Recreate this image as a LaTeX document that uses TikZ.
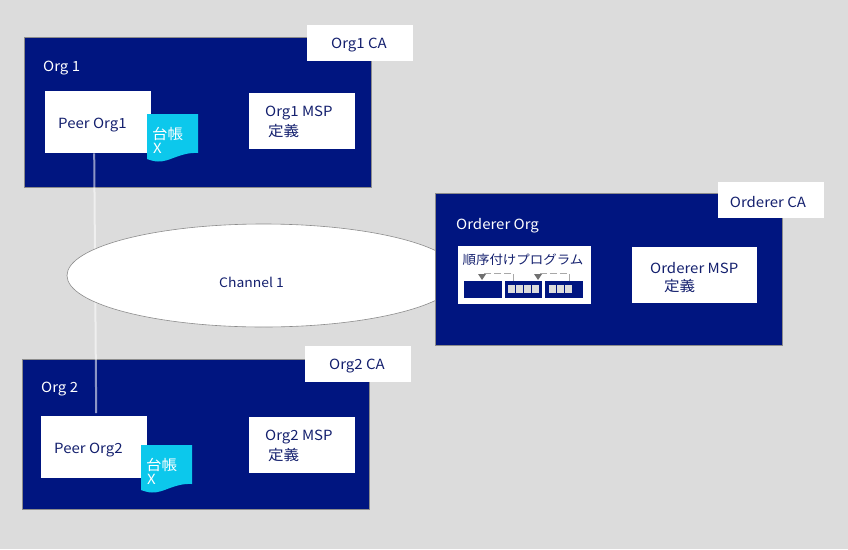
\documentclass[tikz,border=0pt]{standalone}
\usepackage{fontspec}
\usetikzlibrary{shapes.geometric}
\setmainfont[FakeStretch=1.07]{Noto Sans CJK JP}
\definecolor{bgc}{HTML}{DCDCDC}
\definecolor{navy}{HTML}{001580}
\definecolor{led}{HTML}{0CC8EC}
\definecolor{txt}{HTML}{14206E}
\definecolor{edge}{HTML}{8C8C8C}
\definecolor{dashc}{HTML}{A8A8A8}
\definecolor{tipc}{HTML}{707070}
\tikzset{
 x=1pt,y=-1pt,
 every node/.style={inner sep=0pt,font=\fontsize{14}{16}\selectfont},
 org/.style={fill=navy,draw=edge,line width=.8pt,anchor=north west},
 wbox/.style={fill=white,anchor=north west},
 dark/.style={text=txt,align=left,yshift=-1.5pt},
 lite/.style={text=white,align=left,yshift=-1.5pt},
 kanji/.style={font=\fontsize{14.5}{16}\selectfont},
 ledger/.style={fill=led},
 flow/.style={draw=white,draw opacity=.55,line width=2pt},
 minibox/.style={fill=navy,anchor=north west,minimum height=17pt},
 transfer/.style={draw=dashc,line width=.9pt,dash pattern=on 7pt off 3pt},
 tip/.style={fill=tipc},
}
\begin{document}
\begin{tikzpicture}
\useasboundingbox[fill=bgc] (0,0) rectangle (848,549);
% org panels
\node[org,minimum width=347pt,minimum height=150pt] (org1) at (23.9,37.2) {};
\node[org,minimum width=347pt,minimum height=150pt] (org2) at (21.9,358.6) {};
% CA boxes
\node[wbox,minimum width=106pt,minimum height=36pt] (ca1) at (307,25) {};
\node[dark] (ca1t) at (359,44) {Org1 CA};
\node[wbox,minimum width=106pt,minimum height=36pt] (ca2) at (305,346) {};
\node[dark] (ca2t) at (357,365) {Org2 CA};
% labels
\node[lite,anchor=west] (l1) at (43,67) {Org 1};
\node[lite,anchor=west] (l2) at (41,388) {Org 2};
% peers
\node[wbox,minimum width=106pt,minimum height=62pt] (p1) at (45,91) {};
\node[wbox,minimum width=106pt,minimum height=62pt] (p2) at (41,416) {};
\node[dark,anchor=west] (p1t) at (58,124) {Peer Org1};
\node[dark,anchor=west] (p2t) at (54,449) {Peer Org2};
% connector, under the ellipse
\draw[flow] ([xshift=-4pt]p1.south) -- ([xshift=2pt,yshift=3pt]p2.north);
% channel
\node[ellipse,fill=white,draw=edge,line width=.6pt,minimum width=393pt,minimum height=103pt] (ch) at (263.5,275.5) {};
\node[dark,font=\fontsize{13}{15}\selectfont] (cht) at (251.5,281) {Channel 1};
% orderer org, over the ellipse
\node[org,minimum width=347pt,minimum height=152pt] (ordo) at (434.9,193.2) {};
\node[wbox,minimum width=106pt,minimum height=36pt] (ca3) at (718,182) {};
\node[dark] (ca3t) at (768,201) {Orderer CA};
\node[lite,anchor=west] (l3) at (456,224) {Orderer Org};
% ledgers
\fill[ledger] (147,114) -- (198,114) -- (198,153) .. controls (180,152) and (170,162) .. (158,161.5) .. controls (154,161.5) and (150,160) .. (147,159) -- cycle;
\node[lite,kanji,anchor=west] (d1) at (152,132) {台帳};
\node[lite,anchor=west] (x1) at (153,146.5) {X};
\fill[ledger] (141,445) -- (192,445) -- (192,484) .. controls (174,483) and (164,493) .. (152,492.5) .. controls (148,492.5) and (144,491) .. (141,490) -- cycle;
\node[lite,kanji,anchor=west] (d2) at (146,463) {台帳};
\node[lite,anchor=west] (x2) at (147,477.5) {X};
% MSP
\node[wbox,minimum width=106pt,minimum height=56pt] (m1) at (249,93) {};
\node[dark,anchor=west] (m1a) at (265,112) {Org1 MSP};
\node[dark,kanji,anchor=west] (m1b) at (268,130) {定義};
\node[wbox,minimum width=106pt,minimum height=56pt] (m2) at (249,417) {};
\node[dark,anchor=west] (m2a) at (265,436) {Org2 MSP};
\node[dark,kanji,anchor=west] (m2b) at (268,454) {定義};
\node[wbox,minimum width=125pt,minimum height=56pt] (m3) at (632,247) {};
\node[dark,anchor=west] (m3a) at (650,267) {Orderer MSP};
\node[dark,kanji,anchor=west] (m3b) at (664,285) {定義};
% orderer program
\node[wbox,minimum width=133pt,minimum height=58pt] (op) at (458,246) {};
\node[text=txt,font=\fontsize{12.6}{15}\selectfont] (opt) at (523,260) {順序付けプログラム};
\node[minibox,minimum width=38pt] (b1) at (464,281) {};
\node[minibox,minimum width=37pt] (b2) at (505,281) {};
\node[minibox,minimum width=38pt] (b3) at (545,281) {};
\foreach \i in {0,...,3} \fill[bgc] (508+\i*8,285) rectangle +(7,8);
\foreach \i in {0,...,2} \fill[bgc] (549+\i*8,285) rectangle +(7,8);
% dashed transfers
\coordinate (t1) at (482,273);
\coordinate (t2) at (538,273);
\draw[transfer] ([xshift=8pt]b2.north west) -- ++(0,-8) -- (t1);
\draw[transfer] ([xshift=24pt]b3.north west) -- ++(0,-8) -- (t2);
\fill[tip] (478,274) -- (486,274) -- (482,280) -- cycle;
\fill[tip] (534,274) -- (542,274) -- (538,280) -- cycle;
\end{tikzpicture}
\end{document}
